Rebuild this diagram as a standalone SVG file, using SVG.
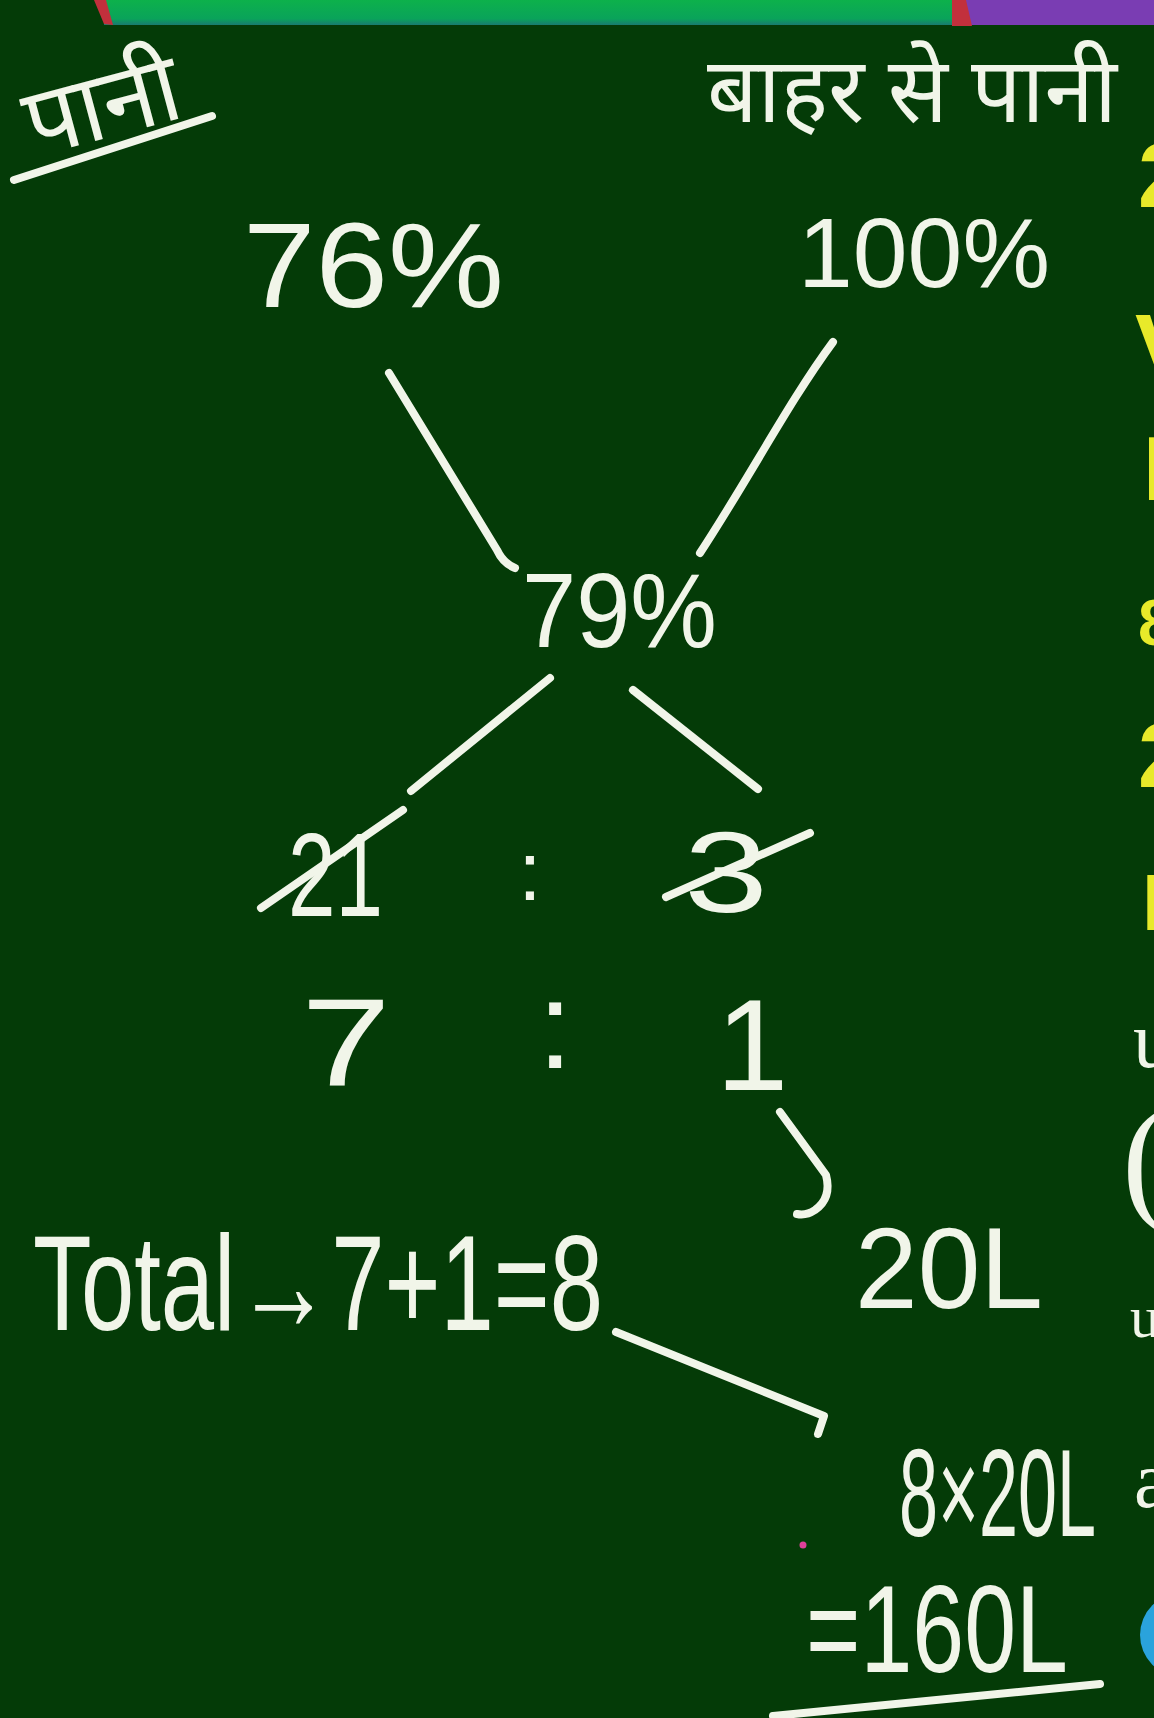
<svg xmlns="http://www.w3.org/2000/svg" width="1154" height="1718" viewBox="0 0 1154 1718">
<defs>
<style>
.chalk{fill:none;stroke:#f1f5e9;stroke-width:8;stroke-linecap:round;stroke-linejoin:round}
.t{fill:#f1f5e9;font-family:"Liberation Sans",Arial,sans-serif}
.hi{fill:#f1f5e9;font-family:"Noto Sans","Noto Sans Devanagari","Lohit Devanagari","FreeSans","DejaVu Sans",sans-serif}
.ye{fill:#e8ea2a;font-family:"Liberation Sans",Arial,sans-serif;font-weight:bold}
.wh{fill:#f1f5e9;font-family:"Liberation Serif","Times New Roman",serif}
</style>
<linearGradient id="barfade" x1="0" y1="0" x2="0" y2="1">
<stop offset="0" stop-color="#0db14b"/>
<stop offset="0.75" stop-color="#0aa35a"/>
<stop offset="1" stop-color="#1a7a70"/>
</linearGradient>
</defs>
<rect x="0" y="0" width="1154" height="1718" fill="#043b07"/>
<g id="topbar">
<rect x="104" y="0" width="862" height="25" fill="url(#barfade)"/>
<rect x="963" y="0" width="191" height="25" fill="#7a3db3"/>
<polygon points="94,0 106,0 113,25 104,24" fill="#c2303c"/>
<polygon points="952,0 966,0 972,26 952,26" fill="#c2303c"/>
</g>
<g id="n-pani">
<text class="hi" x="102" y="138" font-size="96" text-anchor="middle" transform="rotate(-15 102 105)">पानी</text>
<line class="chalk" x1="14" y1="180" x2="212" y2="116"/>
</g>
<g id="n-bahar">
<text class="hi" x="707" y="122" font-size="92" textLength="410" lengthAdjust="spacingAndGlyphs">बाहर से पानी</text>
</g>
<g id="n-76">
<text class="t" x="243" y="307" font-size="120" textLength="261" lengthAdjust="spacingAndGlyphs">76%</text>
</g>
<g id="n-100">
<text class="t" x="798" y="287" font-size="98" textLength="252" lengthAdjust="spacingAndGlyphs">100%</text>
</g>
<g id="n-79">
<text class="t" x="522" y="647" font-size="105" textLength="195" lengthAdjust="spacingAndGlyphs">79%</text>
</g>
<g id="n-ratio1">
<text class="t" x="288" y="916" font-size="118" textLength="95" lengthAdjust="spacingAndGlyphs">21</text>
<text class="t" x="530" y="900" font-size="84" text-anchor="middle">:</text>
<text class="t" x="684" y="912" font-size="115" textLength="84" lengthAdjust="spacingAndGlyphs">3</text>
<line class="chalk" x1="261" y1="908" x2="403" y2="810"/>
<line class="chalk" x1="666" y1="897" x2="810" y2="833"/>
</g>
<g id="n-ratio2">
<text class="t" x="301" y="1085" font-size="125" textLength="90" lengthAdjust="spacingAndGlyphs">7</text>
<text class="t" x="555" y="1068" font-size="125" text-anchor="middle">:</text>
<text class="t" x="716" y="1090" font-size="130">1</text>
</g>
<g id="n-20L">
<text class="t" x="855" y="1308" font-size="115" textLength="188" lengthAdjust="spacingAndGlyphs">20L</text>
</g>
<g id="n-total">
<text class="t" x="33" y="1330" font-size="135" textLength="570" lengthAdjust="spacingAndGlyphs">Total→7+1=8</text>
</g>
<g id="n-8x20L">
<text class="t" x="899" y="1536" font-size="124" textLength="197" lengthAdjust="spacingAndGlyphs">8×20L</text>
</g>
<g id="n-160L">
<text class="t" x="806" y="1672" font-size="124" textLength="262" lengthAdjust="spacingAndGlyphs">=160L</text>
<line class="chalk" x1="773" y1="1716" x2="1100" y2="1684"/>
<circle cx="803" cy="1545" r="3.5" fill="#e0409a"/>
</g>
<g id="connectors">
<path class="chalk" d="M389 373 L497 550 Q503 563 515 568"/>
<path class="chalk" d="M833 342 C790 400 748 480 700 553"/>
<line class="chalk" x1="550" y1="678" x2="411" y2="791"/>
<line class="chalk" x1="633" y1="690" x2="758" y2="789"/>
<path class="chalk" d="M780 1112 L826 1175 Q832 1198 815 1210 Q806 1216 797 1214"/>
<path class="chalk" d="M616 1332 L824 1416 L818 1434"/>
</g>
<g id="edge">
<text class="ye" x="1138" y="207" font-size="90">2</text>
<text class="ye" x="1135" y="380" font-size="95">V</text>
<text class="ye" x="1143" y="500" font-size="90">I</text>
<text class="ye" x="1138" y="645" font-size="65">8</text>
<text class="ye" x="1138" y="787" font-size="90">2</text>
<text class="ye" x="1142" y="930" font-size="80">I</text>
<text class="wh" x="1133" y="1067" font-size="80">u</text>
<text class="wh" x="1122" y="1205" font-size="140">(</text>
<text class="wh" x="1130" y="1337" font-size="60">u</text>
<text class="wh" x="1134" y="1507" font-size="80">a</text>
<circle cx="1182" cy="1635" r="42" fill="#2aa3dc"/>
</g>
</svg>
